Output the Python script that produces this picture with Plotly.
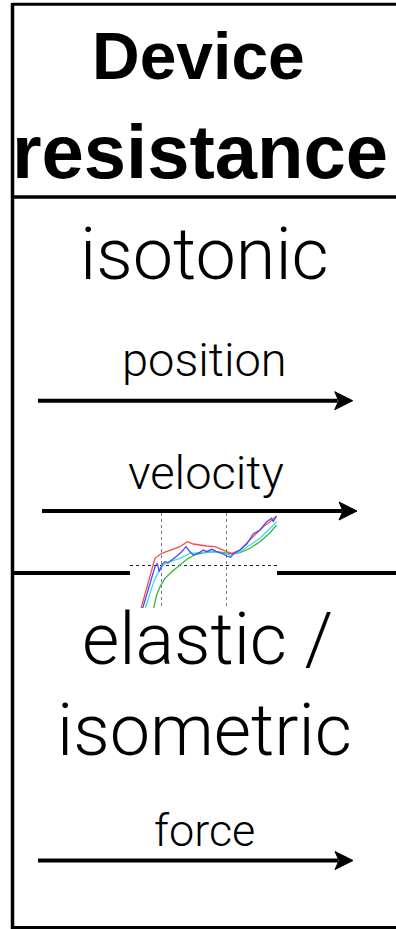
import plotly.graph_objects as go

W, H = 396, 929

# inset trace: time (s) vs normalised signal, four repetitions
red_x = [0.331, 0.396, 0.446, 0.498, 0.562, 0.638, 0.695, 0.741, 0.844, 0.908, 0.998, 1.036, 1.10, 1.202, 1.279, 1.331, 1.382]
red_y = [-0.94, -0.36, 0.134, 0.234, 0.30, 0.366, 0.466, 0.42, 0.38, 0.366, 0.266, 0.234, 0.30, 0.566, 0.766, 0.866, 0.98]

blue_x = [0.343, 0.408, 0.446, 0.464, 0.479, 0.498, 0.523, 0.548, 0.575, 0.60, 0.625, 0.652, 0.685, 0.715, 0.741, 0.779, 0.818,
          0.844, 0.882, 0.921, 0.959, 0.998, 1.028, 1.048, 1.10, 1.152, 1.202, 1.254, 1.305, 1.344, 1.356, 1.382]
blue_y = [-0.94, -0.366, -0.034, 0.034, -0.134, 0.0, 0.066, 0.046, 0.10, 0.134, 0.20, 0.266, 0.366, 0.266, 0.20, 0.234, 0.30,
          0.266, 0.314, 0.266, 0.234, 0.18, 0.154, 0.22, 0.30, 0.42, 0.62, 0.70, 0.866, 0.934, 0.866, 0.98]

cyan_x = [0.362, 0.433, 0.472, 0.510, 0.562, 0.638, 0.715, 0.792, 0.869, 0.946, 1.023, 1.10, 1.177, 1.254, 1.331, 1.382]
cyan_y = [-0.94, -0.366, -0.134, 0.0, 0.066, 0.134, 0.234, 0.246, 0.266, 0.246, 0.20, 0.266, 0.40, 0.534, 0.734, 0.866]

green_x = [0.429, 0.459, 0.485, 0.523, 0.575, 0.638, 0.702, 0.767, 0.844, 0.921, 0.998, 1.048, 1.10, 1.177, 1.254, 1.331, 1.382]
green_y = [-0.94, -0.60, -0.434, -0.266, -0.134, 0.0, 0.134, 0.22, 0.254, 0.266, 0.246, 0.22, 0.246, 0.334, 0.466, 0.646, 0.80]

grid_x = [0.5, 1.0]
grid_y = [0]

# table text: (label, centre x px, centre y px, size, bold)
labels = [
    ('Device', 199, 56, 66, True),
    ('resistance', 200, 151, 76, True),
    ('isotonic', 204, 255, 72, False),
    ('position', 204, 360, 47, False),
    ('velocity', 206, 472, 47, False),
    ('elastic /', 207, 639, 72, False),
    ('isometric', 205, 730, 72, False),
    ('force', 204, 830, 45, False),
]

# arrows: (x start, x tip, y) in px
arrows = [(38, 352.7, 400.7), (42, 357, 511), (38, 353, 860.5)]


def px(x):
    return x / W


def py(y):
    return 1 - y / H


def hline(x0, x1, y, w=3.5):
    return dict(type='line', xref='paper', yref='paper', x0=px(x0), x1=px(x1), y0=py(y), y1=py(y),
                line=dict(color='black', width=w))


def vline(x, y0, y1, w=3.5):
    return dict(type='line', xref='paper', yref='paper', x0=px(x), x1=px(x), y0=py(y0), y1=py(y1),
                line=dict(color='black', width=w))


fig = go.Figure()
for xs, ys, c in [(green_x, green_y, '#3cb43c'), (cyan_x, cyan_y, '#3ce0e0'),
                  (red_x, red_y, '#ff4a4a'), (blue_x, blue_y, '#4a4aff')]:
    fig.add_trace(go.Scatter(x=xs, y=ys, mode='lines', line=dict(color=c, width=1.3), hoverinfo='skip'))

shapes = [
    hline(12.5, W, 4.3, 3),
    hline(12.5, W, 197),
    hline(12.5, 130, 573, 4),
    hline(277, W, 573, 4),
    hline(12.5, W, 927.5, 3),
    vline(12.5, 3, 929),
]
for x0, tip, y in arrows:
    back = tip - 18
    shapes.append(hline(x0, back + 3, y, 4))
    path = (f'M {px(tip)} {py(y)} L {px(back)} {py(y - 9)} L {px(back + 4)} {py(y)} '
            f'L {px(back)} {py(y + 9)} Z')
    shapes.append(dict(type='path', xref='paper', yref='paper', path=path,
                       fillcolor='black', line=dict(color='black', width=1)))

annotations = []
for text, x, y, size, bold in labels:
    annotations.append(dict(
        text=text, x=px(x), y=py(y), xref='paper', yref='paper', showarrow=False,
        xanchor='center', yanchor='middle',
        font=dict(family='Liberation Sans, Arial' if bold else 'Roboto, Lato, sans-serif',
                  size=size, color='black', weight=700 if bold else 300)))

fig.update_layout(
    width=W, height=H, margin=dict(l=0, r=0, t=0, b=0),
    paper_bgcolor='white', plot_bgcolor='white', showlegend=False,
    shapes=shapes, annotations=annotations,
    xaxis=dict(domain=[px(130), px(277)], range=[0.254, 1.385], tickvals=grid_x, showticklabels=False,
               showgrid=True, griddash='dot', gridcolor='#777', gridwidth=1, zeroline=False, ticks=''),
    yaxis=dict(domain=[py(608), py(513)], range=[-0.86, 1.04], tickvals=grid_y, showticklabels=False,
               showgrid=True, griddash='dot', gridcolor='#222', gridwidth=1, zeroline=False, ticks=''),
)

# the page body has a default 8px margin; drop it so the figure fills the window
fig.write_html('out.html', config={'displayModeBar': False},
               post_script="document.body.style.margin='0';document.body.style.overflow='hidden';")
